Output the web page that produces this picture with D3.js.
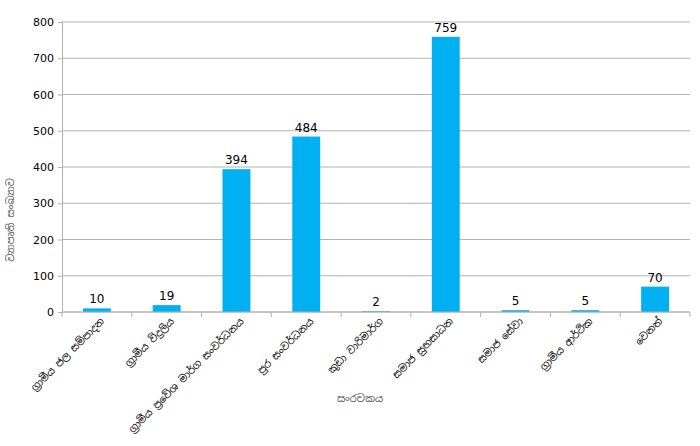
<!DOCTYPE html>
<html><head><meta charset="utf-8">
<script src="https://cdn.jsdelivr.net/npm/d3@7"></script>
<style>body{margin:0;background:#fff;font-family:"DejaVu Sans",sans-serif}</style>
</head><body><svg id="c" width="700" height="446"></svg>
<script>
const categories = ["ග්‍රාමීය ජල සම්පාදන","ග්‍රාමීය විදුලිය","ග්‍රාමීය ප්‍රවේශ මාර්ග සංවර්ධනය","පුර සංවර්ධනය","කුඩා වාරිමාර්ග","සමාජ සුභසාධන","සමාජ සේවා","ග්‍රාමීය ආර්ථික","වෙනත්"];
const values = [10,19,394,484,2,759,5,5,70];
const yTicks = [0,100,200,300,400,500,600,700,800];

const svg = d3.select("#c");
const m = {left:62, right:690, top:22, bottom:312};
const x = d3.scaleBand().domain(categories).range([m.left,m.right]).paddingInner(0.6).paddingOuter(0.3);
const band = d3.scaleBand().domain(categories).range([m.left,m.right]);
const y = d3.scaleLinear().domain([0,800]).range([m.bottom,m.top]);

svg.append("g").selectAll("line").data(yTicks).join("line")
  .attr("x1",m.left).attr("x2",m.right).attr("y1",d=>y(d)).attr("y2",d=>y(d))
  .attr("stroke","#b3b3b3").attr("stroke-width",1);

svg.append("g").attr("transform",`translate(${m.left},0)`)
  .call(d3.axisLeft(y).tickValues(yTicks).tickSize(4).tickPadding(4))
  .call(g=>g.select(".domain").attr("stroke","#b3b3b3"))
  .call(g=>g.selectAll("line").attr("stroke","#b3b3b3"))
  .call(g=>g.selectAll("text").attr("font-size",11).attr("fill","#000").attr("font-family","DejaVu Sans"));

svg.append("g").selectAll("rect").data(values).join("rect")
  .attr("x",(d,i)=>x(categories[i])).attr("width",x.bandwidth())
  .attr("y",d=>y(d)).attr("height",d=>y(0)-y(d)).attr("fill","#00b0f0");

svg.append("g").selectAll("text").data(values).join("text")
  .attr("x",(d,i)=>x(categories[i])+x.bandwidth()/2).attr("y",d=>y(d)-5)
  .attr("text-anchor","middle").attr("font-size",12).text(d=>d);

const xa = svg.append("g").attr("transform",`translate(0,${m.bottom})`);
xa.append("line").attr("x1",m.left).attr("x2",m.right).attr("stroke","#b3b3b3");
xa.selectAll("line.t").data(d3.range(categories.length+1)).join("line").attr("class","t")
  .attr("x1",i=>m.left+i*band.bandwidth()).attr("x2",i=>m.left+i*band.bandwidth())
  .attr("y1",0).attr("y2",5).attr("stroke","#b3b3b3");
xa.selectAll("text").data(categories).join("text")
  .attr("transform",d=>`translate(${x(d)+x.bandwidth()/2+8},10) rotate(-45)`)
  .attr("text-anchor","end").attr("font-size",10).attr("font-family","Noto Sans Sinhala, Noto Sans, sans-serif").text(d=>d);

svg.append("text").attr("x",360).attr("y",402).attr("text-anchor","middle")
  .attr("font-size",10).attr("fill","#555").attr("font-family","Noto Sans Sinhala, Noto Sans, sans-serif").text("සංරචකය");
svg.append("text").attr("transform","translate(14,220) rotate(-90)").attr("text-anchor","middle")
  .attr("font-size",10).attr("fill","#555").attr("font-family","Noto Sans Sinhala, Noto Sans, sans-serif").text("ව්‍යාපෘති සංඛ්‍යාව");
</script></body></html>
